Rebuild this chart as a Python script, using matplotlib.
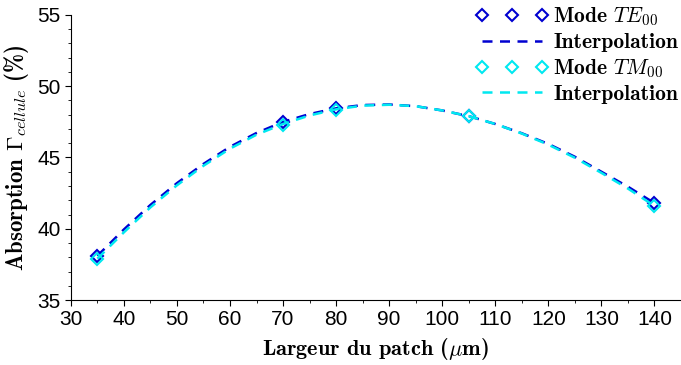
import numpy as np
import matplotlib
matplotlib.use('Agg')
import matplotlib.pyplot as plt

plt.rcParams['mathtext.fontset'] = 'cm'

# measured points
largeur = [35, 70, 80, 105, 140]
te00 = [38.1, 47.5, 48.5, 47.9, 41.8]
tm00 = [37.9, 47.3, 48.3, 47.9, 41.6]

# interpolation curves
x_interp = [35, 40, 45, 50, 55, 60, 65, 70, 75, 80, 85, 90, 95,
            100, 105, 110, 115, 120, 125, 130, 135, 140]
te_interp = [38.1, 39.95, 41.67, 43.2, 44.55, 45.75, 46.72, 47.5, 48.05,
             48.45, 48.68, 48.72, 48.6, 48.3, 47.9, 47.35, 46.7, 45.95,
             45.05, 44.0, 42.95, 41.8]
tm_interp = [37.9, 39.75, 41.5, 43.05, 44.42, 45.62, 46.6, 47.35, 47.95,
             48.38, 48.64, 48.7, 48.6, 48.3, 47.9, 47.35, 46.68, 45.9,
             44.98, 43.92, 42.82, 41.6]

c_te = '#0000d0'
c_tm = '#00e8f0'

fig = plt.figure(figsize=(6.81, 3.65), dpi=100)
ax = fig.add_axes([0.104, 0.178, 0.896, 0.781])

ax.plot(largeur, te00, linestyle='none', marker='D', markersize=6,
        markerfacecolor='none', markeredgecolor=c_te, markeredgewidth=1.5,
        label=r'Mode $\mathit{TE}_{00}$')
ax.plot(x_interp, te_interp, color=c_te, lw=1.8, linestyle=(0, (4, 3)),
        label='Interpolation')
ax.plot(largeur, tm00, linestyle='none', marker='D', markersize=6,
        markerfacecolor='none', markeredgecolor=c_tm, markeredgewidth=1.5,
        label=r'Mode $\mathit{TM}_{00}$')
ax.plot(x_interp, tm_interp, color=c_tm, lw=1.8, linestyle=(0, (4, 3)),
        label='Interpolation')

ax.set_xlim(30, 145)
ax.set_ylim(35, 55)
ax.set_xticks(np.arange(30, 141, 10))
ax.set_xticks(np.arange(35, 146, 5), minor=True)
ax.set_yticks(np.arange(35, 56, 5))
ax.set_yticks(np.arange(35, 56, 1), minor=True)

for s in ['top', 'right']:
    ax.spines[s].set_visible(False)

ax.tick_params(which='major', direction='out', length=4, labelsize=15)
ax.tick_params(which='minor', direction='out', length=2)
for lab in ax.get_xticklabels() + ax.get_yticklabels():
    lab.set_fontfamily('Liberation Sans')

ax.set_xlabel(r'Largeur du patch ($\mu$m)', fontfamily='cmb10', fontsize=16,
              labelpad=5)
ax.set_ylabel(r'Absorption $\mathbf{\Gamma}_{cellule}$ (%)', fontfamily='cmb10',
              fontsize=16.5, labelpad=4)

leg = ax.legend(loc='upper right', bbox_to_anchor=(1.027, 1.1), frameon=False,
                numpoints=3, handlelength=3.4, handletextpad=0.2,
                labelspacing=0.22, prop={'family': 'cmb10', 'size': 15.5})

fig.savefig('out.png', dpi=100)
